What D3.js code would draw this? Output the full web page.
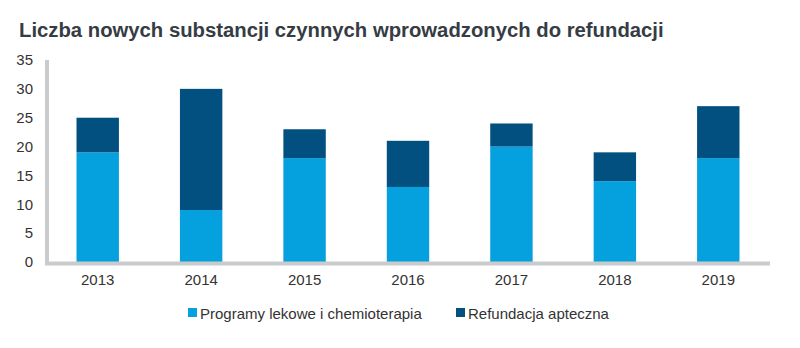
<!DOCTYPE html>
<html><head><meta charset="utf-8">
<script src="https://cdn.jsdelivr.net/npm/d3@7"></script>
<style>body{margin:0;background:#fff}</style>
</head><body>
<svg id="c" width="800" height="348"></svg>
<script>
const years = ["2013","2014","2015","2016","2017","2018","2019"];
const programy = [19, 9, 18, 13, 20, 14, 18];
const apteczna = [6, 21, 5, 8, 4, 5, 9];
const yTicks = [0,5,10,15,20,25,30,35];
const seriesNames = ["Programy lekowe i chemioterapia", "Refundacja apteczna"];
const colors = ["#05a0de", "#02507f"];
const title = "Liczba nowych substancji czynnych wprowadzonych do refundacji";

const svg = d3.select("#c");
const font = "'Liberation Sans', Arial, sans-serif";
const x = d3.scaleBand().domain(years).range([46, 770]).paddingInner(0.59).paddingOuter(0.295);
const y = d3.scaleLinear().domain([0,35]).range([262, 60]);

svg.append("text").attr("x",19).attr("y",37).attr("font-family",font).attr("font-weight","bold")
  .attr("font-size",20.3).attr("fill","#353c44").text(title);

const data = years.map((yr,i)=>({year:yr, programy:programy[i], apteczna:apteczna[i]}));
const stack = d3.stack().keys(["programy","apteczna"])(data);
stack.forEach((s,k)=>{
  svg.append("g").selectAll("rect").data(s).join("rect")
    .attr("x",d=>x(d.data.year)).attr("width",x.bandwidth())
    .attr("y",d=>y(d[1])).attr("height",d=>y(d[0])-y(d[1]))
    .attr("fill",colors[k]);
});

// axes
const yAxis = svg.append("g").attr("transform","translate(47,0)")
  .call(d3.axisLeft(y).tickValues(yTicks).tickSize(0).tickPadding(14));
yAxis.select(".domain").attr("stroke","#c9cbcd").attr("stroke-width",4).attr("d","M0,"+y(35)+"V"+(y(0)+2));
yAxis.selectAll("text").attr("font-family",font).attr("font-size",15).attr("fill","#333");

const xAxis = svg.append("g").attr("transform","translate(0,"+(y(0)+1.5)+")")
  .call(d3.axisBottom(x).tickSize(0).tickPadding(11));
xAxis.select(".domain").attr("stroke","#c9cbcd").attr("stroke-width",4).attr("d","M45,0H770");
xAxis.selectAll("text").attr("font-family",font).attr("font-size",15).attr("fill","#333");

// legend
const legX = [188, 456];
seriesNames.forEach((n,i)=>{
  svg.append("rect").attr("x",legX[i]).attr("y",308).attr("width",9).attr("height",9).attr("fill",colors[i]);
  svg.append("text").attr("x",legX[i]+12).attr("y",318.5).attr("font-family",font).attr("font-size",15)
    .attr("fill","#333").text(n);
});
</script>
</body></html>
